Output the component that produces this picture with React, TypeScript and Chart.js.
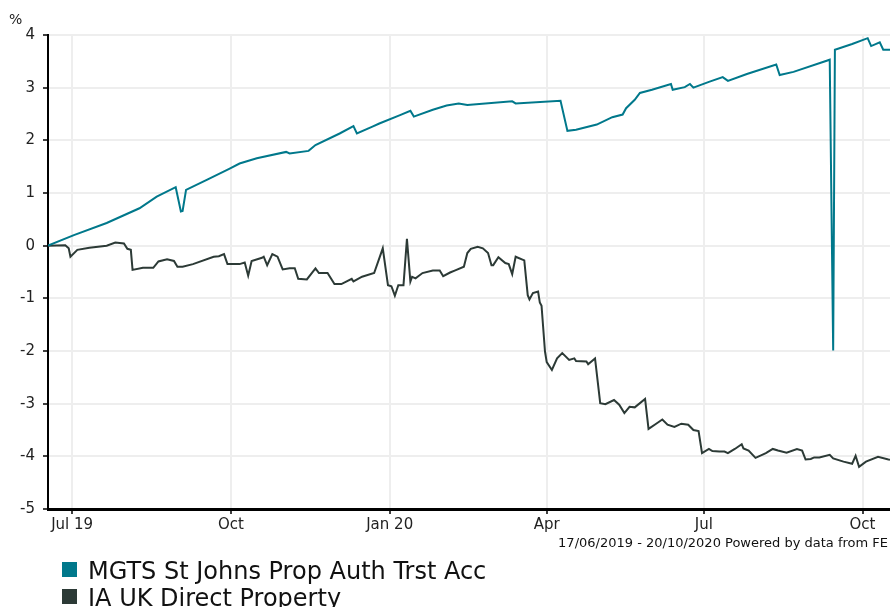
import React, { useEffect, useRef } from 'react';
import { Chart, registerables } from 'chart.js';

Chart.register(...registerables);

// ---- data ----
const startDate = '2019-06-17';
const endDate = '2020-10-20';
const footerText = '17/06/2019 - 20/10/2020 Powered by data from FE';
const unitLabel = '%';

const fundName = 'MGTS St Johns Prop Auth Trst Acc';
const fundDates = [
  '2019-06-17', '2019-07-02', '2019-07-21', '2019-08-09', '2019-08-19', '2019-08-30',
  '2019-09-02', '2019-09-03', '2019-09-05', '2019-09-17', '2019-09-30', '2019-10-06',
  '2019-10-16', '2019-11-02', '2019-11-04', '2019-11-15', '2019-11-19', '2019-12-03',
  '2019-12-11', '2019-12-13', '2019-12-22', '2019-12-26', '2020-01-07', '2020-01-13',
  '2020-01-15', '2020-01-26', '2020-02-03', '2020-02-10', '2020-02-15', '2020-03-12',
  '2020-03-14', '2020-04-09', '2020-04-13', '2020-04-18', '2020-04-30', '2020-05-09',
  '2020-05-15', '2020-05-17', '2020-05-22', '2020-05-25', '2020-06-01', '2020-06-12',
  '2020-06-13', '2020-06-20', '2020-06-23', '2020-06-25', '2020-07-04', '2020-07-12',
  '2020-07-15', '2020-07-26', '2020-08-12', '2020-08-14', '2020-08-22', '2020-09-12',
  '2020-09-14', '2020-09-15', '2020-09-25', '2020-10-04', '2020-10-06', '2020-10-11',
  '2020-10-13', '2020-10-20',
];
const fundValues = [
  0, 0.2, 0.43, 0.71, 0.93, 1.11,
  0.65, 0.66, 1.06, 1.25, 1.46, 1.56,
  1.66, 1.78, 1.75, 1.8, 1.91, 2.13,
  2.27, 2.13, 2.26, 2.32, 2.48, 2.56,
  2.45, 2.58, 2.66, 2.7, 2.67, 2.74,
  2.7, 2.75, 2.18, 2.2, 2.3, 2.44,
  2.49, 2.61, 2.77, 2.9, 2.96, 3.07,
  2.96, 3.01, 3.07, 3.0, 3.11, 3.2,
  3.13, 3.26, 3.44, 3.24, 3.3, 3.53,
  -1.99, 3.72, 3.83, 3.94, 3.79, 3.86,
  3.72, 3.72,
];

const sectorName = 'IA UK Direct Property';
const sectorDates = [
  '2019-06-17', '2019-06-27', '2019-06-29', '2019-06-30', '2019-07-04', '2019-07-11',
  '2019-07-21', '2019-07-26', '2019-07-31', '2019-08-02', '2019-08-04', '2019-08-05',
  '2019-08-11', '2019-08-17', '2019-08-20', '2019-08-25', '2019-08-29', '2019-08-31',
  '2019-09-03', '2019-09-09', '2019-09-21', '2019-09-24', '2019-09-27', '2019-09-29',
  '2019-10-06', '2019-10-09', '2019-10-11', '2019-10-13', '2019-10-19', '2019-10-20',
  '2019-10-22', '2019-10-25', '2019-10-28', '2019-10-31', '2019-11-04', '2019-11-07',
  '2019-11-09', '2019-11-14', '2019-11-19', '2019-11-21', '2019-11-26', '2019-11-30',
  '2019-12-04', '2019-12-10', '2019-12-11', '2019-12-16', '2019-12-23', '2019-12-28',
  '2019-12-31', '2020-01-02', '2020-01-04', '2020-01-06', '2020-01-09', '2020-01-11',
  '2020-01-13', '2020-01-14', '2020-01-16', '2020-01-20', '2020-01-26', '2020-01-30',
  '2020-02-01', '2020-02-05', '2020-02-08', '2020-02-13', '2020-02-15', '2020-02-17',
  '2020-02-21', '2020-02-24', '2020-02-27', '2020-02-29', '2020-03-01', '2020-03-04',
  '2020-03-08', '2020-03-10', '2020-03-12', '2020-03-14', '2020-03-19', '2020-03-21',
  '2020-03-22', '2020-03-24', '2020-03-27', '2020-03-28', '2020-03-29', '2020-03-31',
  '2020-04-01', '2020-04-04', '2020-04-07', '2020-04-10', '2020-04-14', '2020-04-17',
  '2020-04-18', '2020-04-24', '2020-04-25', '2020-04-29', '2020-05-02', '2020-05-05',
  '2020-05-10', '2020-05-13', '2020-05-16', '2020-05-19', '2020-05-22', '2020-05-28',
  '2020-05-30', '2020-06-03', '2020-06-07', '2020-06-10', '2020-06-14', '2020-06-18',
  '2020-06-22', '2020-06-25', '2020-06-28', '2020-06-30', '2020-07-04', '2020-07-06',
  '2020-07-10', '2020-07-13', '2020-07-15', '2020-07-19', '2020-07-23', '2020-07-24',
  '2020-07-27', '2020-07-31', '2020-08-06', '2020-08-10', '2020-08-13', '2020-08-18',
  '2020-08-24', '2020-08-27', '2020-08-29', '2020-09-01', '2020-09-03', '2020-09-06',
  '2020-09-12', '2020-09-14', '2020-09-20', '2020-09-25', '2020-09-27', '2020-09-29',
  '2020-10-03', '2020-10-10', '2020-10-16', '2020-10-20',
];
const sectorValues = [
  0, 0.01, -0.05, -0.21, -0.08, -0.04,
  0, 0.06, 0.04, -0.06, -0.08, -0.46,
  -0.42, -0.42, -0.3, -0.26, -0.29, -0.4,
  -0.4, -0.35, -0.21, -0.2, -0.16, -0.35,
  -0.35, -0.32, -0.57, -0.29, -0.23, -0.21,
  -0.37, -0.16, -0.21, -0.45, -0.43, -0.43,
  -0.63, -0.64, -0.43, -0.52, -0.52, -0.73,
  -0.73, -0.63, -0.68, -0.59, -0.52, -0.05,
  -0.75, -0.77, -0.95, -0.75, -0.75, 0.13,
  -0.68, -0.59, -0.62, -0.52, -0.47, -0.47,
  -0.58, -0.51, -0.47, -0.4, -0.14, -0.06,
  -0.02, -0.05, -0.14, -0.37, -0.37, -0.22,
  -0.33, -0.35, -0.54, -0.21, -0.28, -0.94,
  -1.02, -0.9, -0.87, -1.08, -1.14, -2.01,
  -2.21, -2.36, -2.14, -2.04, -2.17, -2.14,
  -2.19, -2.2, -2.25, -2.14, -2.99, -3.01,
  -2.93, -3.02, -3.18, -3.06, -3.07, -2.91,
  -3.48, -3.39, -3.3, -3.4, -3.44, -3.38,
  -3.4, -3.5, -3.52, -3.94, -3.86, -3.9,
  -3.91, -3.91, -3.94, -3.86, -3.77, -3.85,
  -3.89, -4.03, -3.94, -3.86, -3.89, -3.93,
  -3.86, -3.89, -4.06, -4.05, -4.02, -4.02,
  -3.97, -4.04, -4.1, -4.14, -3.99, -4.2,
  -4.1, -4.01, -4.06, -4.07,
];

const xTickDates = ['2019-07-01', '2019-10-01', '2020-01-01', '2020-04-01', '2020-07-01', '2020-10-01'];
const xTickLabels = ['Jul 19', 'Oct', 'Jan 20', 'Apr', 'Jul', 'Oct'];
const yMin = -5;
const yMax = 4;
const yStep = 1;

const fundColor = '#00788b';
const sectorColor = '#2c3a36';

// ---- helpers ----
function dayOf(s: string): number {
  const [y, m, d] = s.split('-').map(Number);
  const [sy, sm, sd] = startDate.split('-').map(Number);
  return Math.round((Date.UTC(y, m - 1, d) - Date.UTC(sy, sm - 1, sd)) / 86400000);
}

function toPoints(dates: string[], values: number[]) {
  return dates.map((d, i) => ({ x: dayOf(d), y: values[i] }));
}

const FONT = '"DejaVu Sans", Verdana, sans-serif';

const extrasPlugin = {
  id: 'feExtras',
  afterDraw(chart: any) {
    const ctx = chart.ctx;
    ctx.save();
    ctx.fillStyle = '#222';
    ctx.textBaseline = 'alphabetic';
    ctx.textAlign = 'left';
    ctx.font = `14px ${FONT}`;
    ctx.fillText(unitLabel, 9, 24);

    ctx.font = `13px ${FONT}`;
    ctx.textAlign = 'right';
    ctx.fillStyle = '#111';
    ctx.fillText(footerText, 888, 547);

    ctx.textAlign = 'left';
    chart.data.datasets.forEach((ds: any, i: number) => {
      const top = 562 + i * 27;
      ctx.fillStyle = ds.borderColor;
      ctx.fillRect(62, top, 15, 15);
      ctx.fillStyle = '#111';
      ctx.font = `24px ${FONT}`;
      ctx.fillText(ds.label, 88, top + 17);
    });
    ctx.restore();
  },
};

export default function App() {
  const canvasRef = useRef<HTMLCanvasElement | null>(null);

  useEffect(() => {
    if (!canvasRef.current) return;
    const tickDays = xTickDates.map(dayOf);
    const chart = new Chart(canvasRef.current, {
      type: 'line',
      data: {
        datasets: [
          {
            label: fundName,
            data: toPoints(fundDates, fundValues),
            borderColor: fundColor,
            backgroundColor: fundColor,
            borderWidth: 2,
            pointRadius: 0,
            tension: 0,
          },
          {
            label: sectorName,
            data: toPoints(sectorDates, sectorValues),
            borderColor: sectorColor,
            backgroundColor: sectorColor,
            borderWidth: 2,
            pointRadius: 0,
            tension: 0,
          },
        ],
      },
      options: {
        animation: false,
        responsive: false,
        devicePixelRatio: 1,
        layout: { padding: { left: 0, top: 35, right: 4.7, bottom: 0 } },
        plugins: {
          legend: { display: false },
          tooltip: { enabled: false },
        },
        scales: {
          x: {
            type: 'linear',
            min: 0,
            max: dayOf(endDate),
            afterBuildTicks: (scale: any) => {
              scale.ticks = tickDays.map((v) => ({ value: v }));
            },
            afterFit: (scale: any) => {
              scale.height = 98;
            },
            ticks: {
              autoSkip: false,
              maxRotation: 0,
              padding: 2,
              color: '#222',
              font: { family: FONT, size: 15 },
              callback: (value: any) => {
                const idx = tickDays.indexOf(Number(value));
                return idx >= 0 ? xTickLabels[idx] : '';
              },
            },
            grid: {
              color: '#eeeeee',
              lineWidth: 2,
              drawTicks: true,
              tickLength: 5,
              tickColor: '#000',
              tickWidth: 1.5,
            },
            border: { display: true, color: '#000', width: 3 },
          },
          y: {
            type: 'linear',
            min: yMin,
            max: yMax,
            ticks: {
              stepSize: yStep,
              padding: 8,
              color: '#222',
              font: { family: FONT, size: 15 },
            },
            afterFit: (scale: any) => {
              scale.width = 48;
            },
            grid: {
              color: '#eeeeee',
              lineWidth: 2,
              drawTicks: true,
              tickLength: 5,
              tickColor: '#000',
              tickWidth: 1.5,
            },
            border: { display: true, color: '#000', width: 2 },
          },
        },
      },
      plugins: [extrasPlugin],
    } as any);
    return () => chart.destroy();
  }, []);

  return (
    <div
      style={{
        position: 'absolute',
        left: 0,
        top: 0,
        width: 890,
        height: 607,
        overflow: 'hidden',
        background: '#fff',
      }}
    >
      <canvas ref={canvasRef} width={900} height={607} style={{ display: 'block', width: 900, height: 607 }} />
    </div>
  );
}
